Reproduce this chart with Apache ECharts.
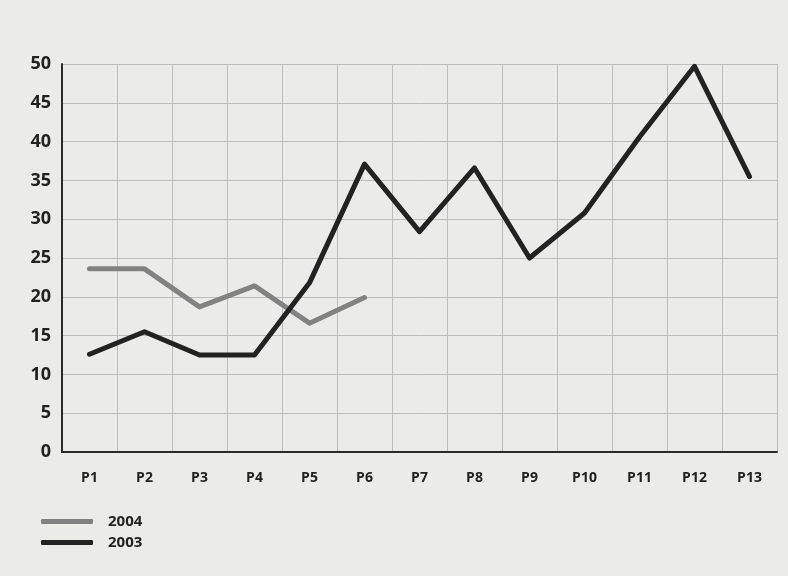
<!DOCTYPE html>
<html>
<head>
<meta charset="utf-8">
<script src="https://cdn.jsdelivr.net/npm/echarts@6/dist/echarts.min.js"></script>
<style>
  html, body { margin: 0; padding: 0; background: #ebebe9; }
  #chart { width: 788px; height: 576px; }
</style>
</head>
<body>
<div id="chart"></div>
<script>
// categories and values
var periods = ['P1', 'P2', 'P3', 'P4', 'P5', 'P6', 'P7', 'P8', 'P9', 'P10', 'P11', 'P12', 'P13'];
var values2004 = [23.6, 23.6, 18.7, 21.4, 16.6, 19.9];
var values2003 = [12.6, 15.5, 12.5, 12.5, 21.8, 37.1, 28.4, 36.6, 25.0, 30.8, 40.6, 49.7, 35.5];
var yTicks = { min: 0, max: 50, interval: 5 };

var font = "'Open Sans', 'DejaVu Sans', sans-serif";
var chart = echarts.init(document.getElementById('chart'));

var option = {
    backgroundColor: '#ebebe9',
    animation: false,
    grid: {
        left: 62,
        right: 11,
        top: 64,
        bottom: 124
    },
    legend: {
        orient: 'vertical',
        left: 36,
        top: 508,
        itemWidth: 52,
        itemHeight: 5,
        itemGap: 4,
        icon: 'roundRect',
        data: ['2004', '2003'],
        textStyle: {
            fontFamily: font,
            fontWeight: 'bold',
            fontSize: 15,
            lineHeight: 17,
            color: '#222',
            padding: [0, 0, 0, 10]
        }
    },
    xAxis: {
        type: 'category',
        data: periods,
        boundaryGap: true,
        axisLine: { lineStyle: { color: '#2a2a2a', width: 2 } },
        axisTick: { show: false },
        splitLine: { show: true, interval: 0, lineStyle: { color: '#bdbdbb', width: 1 } },
        axisLabel: {
            margin: 19,
            interval: 0,
            fontFamily: font,
            fontWeight: 'bold',
            fontSize: 14,
            color: '#222'
        }
    },
    yAxis: {
        type: 'value',
        min: yTicks.min,
        max: yTicks.max,
        interval: yTicks.interval,
        axisLine: { show: true, lineStyle: { color: '#2a2a2a', width: 2 } },
        axisTick: { show: false },
        splitLine: { lineStyle: { color: '#bdbdbb', width: 1 } },
        axisLabel: {
            margin: 11,
            fontFamily: font,
            fontWeight: 'bold',
            fontSize: 18,
            color: '#222'
        }
    },
    series: [
        {
            name: '2004',
            type: 'line',
            data: values2004,
            symbol: 'none',
            itemStyle: { color: '#828282' },
            lineStyle: { color: '#828282', width: 5, join: 'round', cap: 'round' }
        },
        {
            name: '2003',
            type: 'line',
            data: values2003,
            symbol: 'none',
            itemStyle: { color: '#222' },
            lineStyle: { color: '#222', width: 5, join: 'round', cap: 'round' }
        }
    ]
};

chart.setOption(option);
</script>
</body>
</html>
